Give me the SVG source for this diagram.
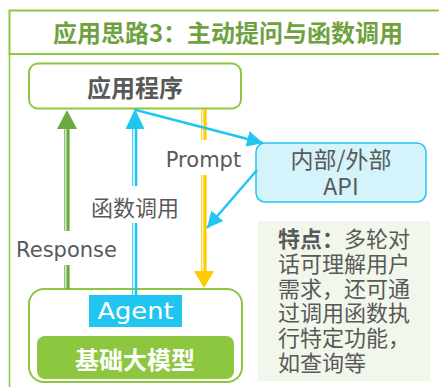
<svg xmlns="http://www.w3.org/2000/svg" width="439" height="387" viewBox="0 0 439 387">
<style>
.cjk{font-family:"Noto Sans CJK SC","Noto Sans",sans-serif}
.lat{font-family:"DejaVu Sans","Noto Sans",sans-serif}
.gray{fill:#595959}
.node{fill:#fff;stroke:#8dc63f;stroke-width:2}
.blue{stroke:#20c6f0;fill:none}
</style>
<defs>
<marker id="bh" markerUnits="userSpaceOnUse" markerWidth="18" markerHeight="16" refX="16" refY="8" orient="auto">
<path d="M0,0 L16,8 L0,16 Z" fill="#20c6f0"/>
</marker>
</defs>
<rect width="439" height="387" fill="#fff"/>
<g id="frame">
<rect x="9.5" y="10.5" width="440" height="43.5" fill="none" stroke="#8dc63f" stroke-width="2"/>
<line x1="9.5" y1="54" x2="9.5" y2="387" stroke="#8dc63f" stroke-width="1.5"/>
<text class="cjk" x="228" y="42" font-size="24" font-weight="bold" fill="#6fa23f" text-anchor="middle">应用思路3：主动提问与函数调用</text>
</g>
<g id="app">
<rect class="node" x="29" y="63.5" width="212" height="45" rx="9"/>
<text class="cjk gray" x="135" y="97" font-size="24" font-weight="bold" text-anchor="middle">应用程序</text>
</g>
<g id="api">
<rect x="256" y="143" width="170" height="59" rx="9" fill="#d4f3fb" stroke="#20c6f0" stroke-width="1.5"/>
<text class="cjk gray" x="341" y="168" font-size="23" text-anchor="middle">内部/外部</text>
<text class="cjk gray" x="341" y="195" font-size="23" text-anchor="middle">API</text>
</g>
<g id="feature">
<rect x="258" y="221" width="172" height="160" fill="#f2f7ec"/>
<g class="cjk gray" font-size="22">
<text x="278" y="246.5"><tspan font-weight="bold">特点：</tspan>多轮对</text>
<text x="278" y="271.5">话可理解用户</text>
<text x="278" y="296.5">需求，还可通</text>
<text x="278" y="321">过调用函数执</text>
<text x="278" y="346">行特定功能，</text>
<text x="278" y="371">如查询等</text>
</g>
</g>
<g id="model">
<rect class="node" x="29" y="289" width="213" height="93" rx="15"/>
<rect x="89" y="295" width="93" height="32" fill="#20c6f0"/>
<text class="lat" x="135.5" y="318.5" font-size="22.5" fill="#fff" text-anchor="middle" textLength="76" lengthAdjust="spacingAndGlyphs">Agent</text>
<rect x="37" y="336" width="197" height="43" rx="8" fill="#8dc63f"/>
<text class="cjk" x="135" y="368.5" font-size="24" font-weight="bold" fill="#fff" text-anchor="middle">基础大模型</text>
</g>
<g id="connectors">
<g id="response">
<line x1="64.8" y1="129" x2="64.8" y2="289" stroke="#6aaa40" stroke-width="1"/>
<line x1="68" y1="129" x2="68" y2="289" stroke="#6aaa40" stroke-width="3.2"/>
<polygon points="67,110 77,129 57,129" fill="#6aaa40"/>
<rect x="12" y="231" width="110" height="34" fill="#fff"/>
<text class="lat gray" x="66.5" y="257" font-size="21" text-anchor="middle">Response</text>
</g>
<g id="call">
<line x1="132.7" y1="129" x2="132.7" y2="295" stroke="#20c6f0" stroke-width="1"/>
<line x1="136" y1="129" x2="136" y2="295" stroke="#20c6f0" stroke-width="2.6"/>
<polygon points="135,109 144.5,129 125.5,129" fill="#20c6f0"/>
<rect x="90" y="186" width="90" height="37" fill="#fff"/>
<text class="cjk gray" x="135" y="215.5" font-size="22" text-anchor="middle">函数调用</text>
</g>
<g id="prompt">
<line x1="201.7" y1="109" x2="201.7" y2="272" stroke="#ffcc00" stroke-width="1"/>
<line x1="205" y1="109" x2="205" y2="272" stroke="#ffcc00" stroke-width="3.3"/>
<polygon points="194,271 214,271 204,288" fill="#ffcc00"/>
<rect x="160" y="140" width="86" height="35" fill="#fff"/>
<text class="lat gray" x="203.5" y="167" font-size="21" text-anchor="middle">Prompt</text>
</g>
<line class="blue" x1="134" y1="109.5" x2="263" y2="143" stroke-width="2.5" marker-end="url(#bh)"/>
<line class="blue" x1="257" y1="170" x2="207" y2="228" stroke-width="2.5" marker-end="url(#bh)"/>
</g>
</svg>
